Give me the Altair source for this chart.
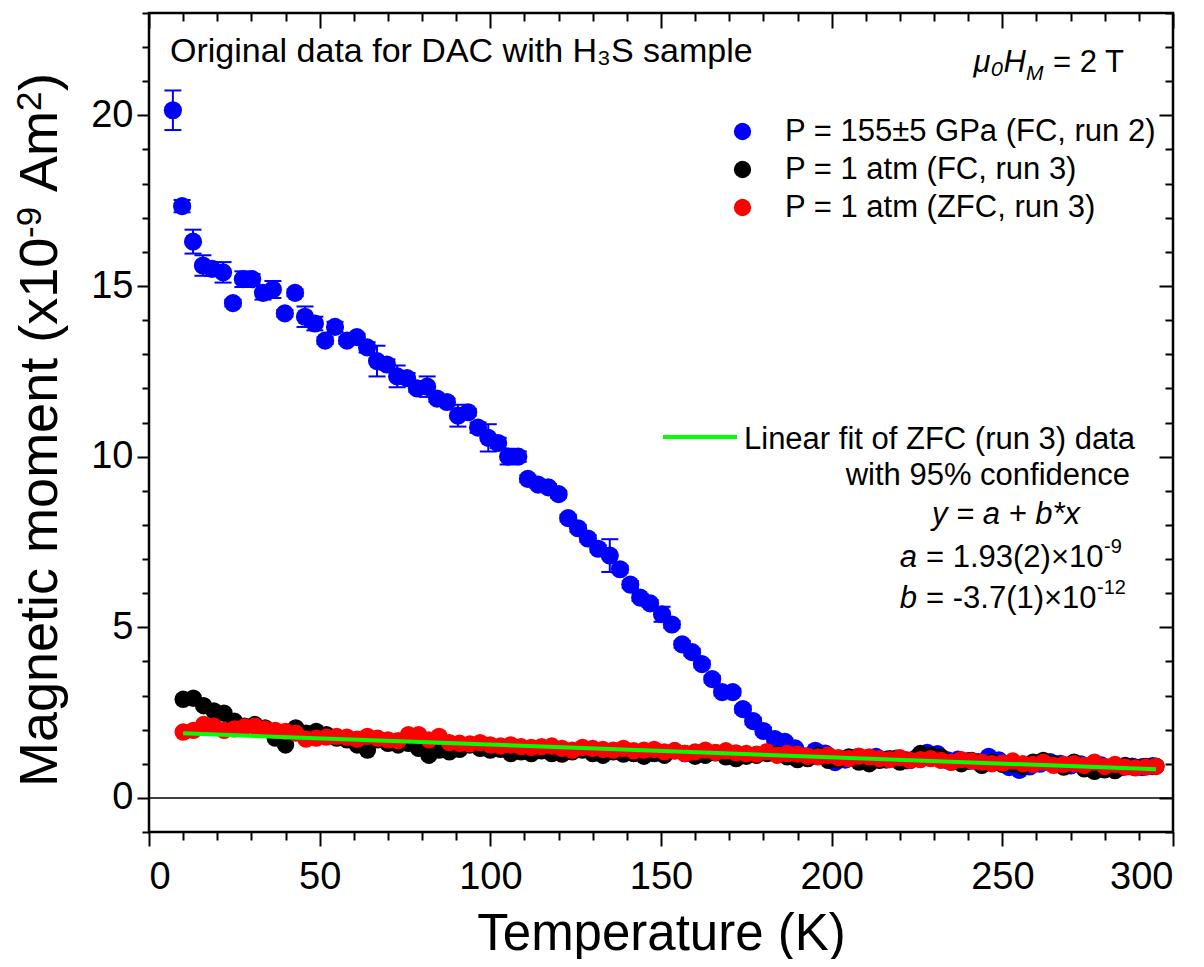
import altair as alt
import pandas as pd

FONT = "Liberation Sans"

# ---------------- data (units of 1e-9 Am^2) ----------------
blue_T = [7.0, 9.7, 12.9, 15.8, 18.5, 21.7, 24.6, 27.5, 30.2, 33.4,
          36.3, 39.8, 42.8, 45.7, 48.6, 51.6, 54.5, 58.0, 60.9, 63.9,
          66.8, 69.7, 72.7, 75.6, 78.5, 81.5, 84.4, 87.3, 90.5, 93.5,
          96.4, 99.4, 102.3, 105.2, 108.2, 111.0, 114.0, 117.0, 120.0, 122.8,
          125.7, 128.6, 131.6, 135.0, 138.0, 141.0, 143.9, 146.8, 150.3, 153.2,
          156.2, 159.1, 162.0, 165.0, 167.9, 171.0, 174.0, 177.0, 180.0, 183.4,
          186.3, 189.3, 192.2, 195.2, 198.1, 201.0, 204.0, 207.0, 210.0, 213.0,
          216.0, 219.0, 222.0, 225.0, 228.0, 231.0, 234.0, 237.0, 240.0, 243.0,
          246.0, 249.0, 252.0, 255.0, 258.0, 261.0, 264.0, 267.0, 270.0, 273.0,
          276.0, 279.0, 282.0, 285.0, 288.0, 291.0, 294.0]
blue_M = [20.15, 17.34, 16.3, 15.6, 15.5, 15.4, 14.5, 15.2, 15.2, 14.8,
          14.9, 14.2, 14.8, 14.1, 13.9, 13.4, 13.8, 13.4, 13.5, 13.2,
          12.8, 12.7, 12.35, 12.3, 12.0, 12.05, 11.7, 11.6, 11.2, 11.3,
          10.85, 10.55, 10.4, 10.0, 10.0, 9.35, 9.18, 9.1, 8.9, 8.2,
          7.9, 7.6, 7.3, 7.1, 6.7, 6.25, 5.87, 5.7, 5.38, 5.08,
          4.5, 4.27, 3.92, 3.48, 3.1, 3.1, 2.6, 2.25, 1.96, 1.72,
          1.64, 1.45, 1.22, 1.38, 1.30, 1.05, 1.12, 1.18, 1.15, 1.20,
          1.12, 1.15, 1.10, 1.18, 1.32, 1.28, 1.10, 1.12, 1.08, 1.05,
          1.20, 1.10, 0.90, 0.82, 0.92, 1.00, 1.05, 1.00, 0.95, 0.98,
          0.90, 0.95, 0.88, 0.90, 0.92, 0.90, 0.93]
blue_err = [0.58, 0.18, 0.35, 0.30, 0.20, 0.30, 0.10, 0.23, 0.15, 0.20,
            0.25, 0.10, 0.10, 0.30, 0.20, 0.10, 0.15, 0.10, 0.10, 0.15,
            0.45, 0.15, 0.32, 0.15, 0.10, 0.30, 0.10, 0.10, 0.32, 0.10,
            0.15, 0.40, 0.15, 0.23, 0.15, 0.10, 0.10, 0.10, 0.10, 0.10,
            0.10, 0.10, 0.10, 0.48, 0.10, 0.10, 0.10, 0.10, 0.22, 0.10,
            0.10, 0.10, 0.10, 0.10, 0.10, 0.10, 0.10, 0.10, 0.10, 0.10,
            0.10, 0.05, 0.05, 0.05, 0.05, 0.05, 0.05, 0.05, 0.05, 0.05,
            0.05, 0.05, 0.05, 0.05, 0.05, 0.05, 0.05, 0.05, 0.05, 0.05,
            0.05, 0.05, 0.05, 0.05, 0.05, 0.05, 0.05, 0.05, 0.05, 0.05,
            0.05, 0.05, 0.05, 0.05, 0.05, 0.05, 0.05]

atm_T = [10, 13, 16, 19, 22, 25, 28, 31, 34, 37,
         40, 43, 46, 49, 52, 55, 58, 61, 64, 67,
         70, 73, 76, 79, 82, 85, 88, 91, 94, 97,
         100, 103, 106, 109, 112, 115, 118, 121, 124, 127,
         130, 133, 136, 139, 142, 145, 148, 151, 154, 157,
         160, 163, 166, 169, 172, 175, 178, 181, 184, 187,
         190, 193, 196, 199, 202, 205, 208, 211, 214, 217,
         220, 223, 226, 229, 232, 235, 238, 241, 244, 247,
         250, 253, 256, 259, 262, 265, 268, 271, 274, 277,
         280, 283, 286, 289, 292, 295]
fc_M = [2.89, 2.92, 2.70, 2.55, 2.48, 2.25, 2.10, 2.15, 2.05, 1.75,
        1.55, 2.05, 1.90, 1.95, 1.85, 1.75, 1.70, 1.55, 1.40, 1.70,
        1.60, 1.55, 1.60, 1.45, 1.25, 1.40, 1.35, 1.42, 1.55, 1.45,
        1.40, 1.42, 1.30, 1.35, 1.30, 1.38, 1.30, 1.28, 1.35, 1.40,
        1.30, 1.25, 1.35, 1.28, 1.30, 1.22, 1.30, 1.25, 1.38, 1.30,
        1.22, 1.25, 1.32, 1.20, 1.15, 1.22, 1.25, 1.30, 1.28, 1.20,
        1.12, 1.15, 1.25, 1.10, 1.12, 1.20, 1.05, 1.00, 1.10, 1.15,
        1.05, 1.10, 1.30, 1.25, 1.20, 1.05, 1.00, 1.10, 0.95, 1.05,
        0.98, 1.00, 0.92, 1.05, 1.10, 1.00, 0.90, 1.05, 0.85, 0.78,
        0.82, 0.80, 0.95, 0.90, 0.92, 0.93]
zfc_M = [1.93, 1.98, 2.15, 2.10, 1.98, 2.02, 2.08, 2.10, 2.02, 1.98,
         1.95, 1.90, 1.72, 1.75, 1.78, 1.80, 1.78, 1.72, 1.80, 1.75,
         1.70, 1.68, 1.85, 1.85, 1.70, 1.80, 1.62, 1.60, 1.58, 1.62,
         1.55, 1.52, 1.55, 1.50, 1.48, 1.50, 1.52, 1.45, 1.40, 1.48,
         1.45, 1.42, 1.40, 1.45, 1.38, 1.40, 1.42, 1.35, 1.38, 1.30,
         1.35, 1.40, 1.33, 1.38, 1.32, 1.30, 1.28, 1.35, 1.25, 1.30,
         1.28, 1.22, 1.20, 1.25, 1.18, 1.15, 1.22, 1.20, 1.15, 1.12,
         1.18, 1.10, 1.12, 1.15, 1.10, 1.05, 1.12, 1.08, 1.05, 1.00,
         1.02, 1.08, 1.00, 0.98, 1.05, 0.95, 0.98, 1.00, 0.95, 1.05,
         0.92, 0.98, 0.90, 0.88, 0.90, 0.92]

fit_T = [10, 295]
fit_M = [1.893, 0.838]

series_names = ["P = 155±5 GPa (FC, run 2)", "P = 1 atm (FC, run 3)", "P = 1 atm (ZFC, run 3)"]
series_colors = ["#0000ff", "#000000", "#ff0000"]

x_major = [0, 50, 100, 150, 200, 250, 300]
x_minor = [10, 20, 30, 40, 60, 70, 80, 90, 110, 120, 130, 140, 160, 170, 180, 190,
           210, 220, 230, 240, 260, 270, 280, 290]
y_major = [0, 5, 10, 15, 20]
y_minor = [-1, 1, 2, 3, 4, 6, 7, 8, 9, 11, 12, 13, 14, 16, 17, 18, 19, 21, 22, 23]

assert len(blue_T) == len(blue_M) == len(blue_err)
assert len(atm_T) == len(fc_M) == len(zfc_M)

blue_df = pd.DataFrame({
    "T": blue_T, "M": blue_M,
    "lo": [m - e for m, e in zip(blue_M, blue_err)],
    "hi": [m + e for m, e in zip(blue_M, blue_err)],
    "series": series_names[0],
})
fc_df = pd.DataFrame({"T": atm_T, "M": fc_M, "series": series_names[1]})
zfc_df = pd.DataFrame({"T": atm_T, "M": zfc_M, "series": series_names[2]})
fit_df = pd.DataFrame({"T": fit_T, "M": fit_M})
zero_df = pd.DataFrame({"M": [0]})
dummy = pd.DataFrame({"d": [0]})

# ---------------- scales & axes ----------------
xs = alt.Scale(domain=[0, 300], nice=False, zero=False)
ys = alt.Scale(domain=[-1, 23], nice=False, zero=False)


def ax(orient, values, size, offset=0, **kw):
    return alt.Axis(orient=orient, values=values, tickSize=size, tickWidth=2,
                    tickColor="black", domain=False, grid=False, offset=offset, **kw)


x_bot_major = ax("bottom", x_major, 14, labels=True, labelFontSize=38, labelPadding=12,
                 labelFont=FONT, labelColor="black", title="Temperature (K)",
                 titleFontSize=51, titleFont=FONT, titleFontWeight="normal",
                 titlePadding=13, titleColor="black")
x_bot_minor = ax("bottom", x_minor, 8, labels=False, title=None)
x_top_major = ax("top", x_major, 15, offset=-15, labels=False, title=None)
x_top_minor = ax("top", x_minor, 8, offset=-8, labels=False, title=None)

y_left_major = ax("left", y_major, 12, labels=True, labelFontSize=38, labelPadding=4,
                  labelFont=FONT, labelColor="black", title=None)
y_left_minor = ax("left", y_minor, 7, labels=False, title=None)
y_right_major = ax("right", y_major, 14, offset=-14, labels=False, title=None)
y_right_minor = ax("right", y_minor, 8, offset=-8, labels=False, title=None)

legend = alt.Legend(title=None, orient="none", legendX=578, legendY=103,
                    labelFont=FONT, labelFontSize=31, labelColor="black", labelLimit=600,
                    symbolType="circle", symbolSize=300, symbolStrokeWidth=0,
                    labelOffset=27, rowPadding=6, padding=0)
color = alt.Color("series:N", scale=alt.Scale(domain=series_names, range=series_colors),
                  legend=legend)

# ---------------- layers ----------------
err_rule = alt.Chart(blue_df).mark_rule(color="#0000ff", strokeWidth=2).encode(
    x=alt.X("T:Q", scale=xs, axis=None),
    y=alt.Y("lo:Q", scale=ys, axis=None),
    y2="hi:Q",
)
cap_lo = alt.Chart(blue_df).mark_tick(color="#0000ff", orient="horizontal", size=17,
                                      thickness=2, opacity=1).encode(
    x=alt.X("T:Q", scale=xs, axis=None),
    y=alt.Y("lo:Q", scale=ys, axis=None),
)
cap_hi = alt.Chart(blue_df).mark_tick(color="#0000ff", orient="horizontal", size=17,
                                      thickness=2, opacity=1).encode(
    x=alt.X("T:Q", scale=xs, axis=None),
    y=alt.Y("hi:Q", scale=ys, axis=None),
)
blue_pts = alt.Chart(blue_df).mark_circle(size=330, opacity=1).encode(
    x=alt.X("T:Q", scale=xs, axis=x_bot_major),
    y=alt.Y("M:Q", scale=ys, axis=y_left_major),
    color=color,
)
fc_pts = alt.Chart(fc_df).mark_circle(size=300, opacity=1).encode(
    x=alt.X("T:Q", scale=xs, axis=x_bot_minor),
    y=alt.Y("M:Q", scale=ys, axis=y_left_minor),
    color=color,
)
zfc_pts = alt.Chart(zfc_df).mark_circle(size=300, opacity=1).encode(
    x=alt.X("T:Q", scale=xs, axis=x_top_major),
    y=alt.Y("M:Q", scale=ys, axis=y_right_major),
    color=color,
)
fit_line = alt.Chart(fit_df).mark_line(color="#00ff00", strokeWidth=4).encode(
    x=alt.X("T:Q", scale=xs, axis=x_top_minor),
    y=alt.Y("M:Q", scale=ys, axis=y_right_minor),
)
zero_rule = alt.Chart(zero_df).mark_rule(color="black", strokeWidth=1.5).encode(
    y=alt.Y("M:Q", scale=ys, axis=None),
)


def txt(text, x, y, size=31, align="left", style="normal", baseline="alphabetic", angle=0):
    return alt.Chart(dummy).mark_text(
        text=text, align=align, baseline=baseline, font=FONT, fontSize=size,
        fontStyle=style, color="black", angle=angle,
    ).encode(x=alt.value(x), y=alt.value(y))


# plot-area coordinates (origin at the top-left of the frame)
texts = [
    txt("Original data for DAC with H₃S sample", 21, 49, size=34),
    txt("μ₀H", 877, 59, style="italic", align="right"),
    txt("M", 877, 67, size=21, style="italic"),
    txt("= 2 T", 904, 59),
    txt("Linear fit of ZFC (run 3) data", 595, 427, baseline="middle"),
    txt("with 95% confidence", 981, 463, align="right", baseline="middle"),
    txt("y = a + b*x", 857, 502, align="center", style="italic", baseline="middle"),
    txt("a", 768, 545, align="right", style="italic", baseline="middle"),
    txt("= 1.93(2)×10", 777, 545, baseline="middle"),
    txt("-9", 955, 534, size=20, baseline="middle"),
    txt("b", 768, 586, align="right", style="italic", baseline="middle"),
    txt("= -3.7(1)×10", 777, 586, baseline="middle"),
    txt("-12", 948, 575, size=20, baseline="middle"),
    # y-axis title, rotated, built from pieces so the exponents are real superscripts
    txt("Magnetic moment (x10", -92, 774, size=54, angle=270),
    txt("-9", -108, 774 - 549, size=35, angle=270),
    txt("Am", -92, 774 - 595, size=54, angle=270),
    txt("2", -108, 774 - 676, size=35, angle=270),
    txt(")", -92, 774 - 696, size=54, angle=270),
]
fit_key = alt.Chart(dummy).mark_rule(color="#00ff00", strokeWidth=4).encode(
    x=alt.value(514), x2=alt.value(588), y=alt.value(424),
)

chart = alt.layer(
    zero_rule, err_rule, cap_lo, cap_hi, blue_pts, fc_pts, zfc_pts, fit_line, fit_key, *texts
).resolve_scale(
    x="shared", y="shared", color="shared"
).resolve_axis(
    x="independent", y="independent"
).properties(
    width=1024, height=819,
    autosize=alt.AutoSizeParams(type="none"),
    padding={"left": 141, "top": 5, "right": 23, "bottom": 127},
    background="white",
).configure_view(
    stroke="black", strokeWidth=2.5
)

chart.save("out.html", embed_options={"renderer": "svg", "actions": False})
